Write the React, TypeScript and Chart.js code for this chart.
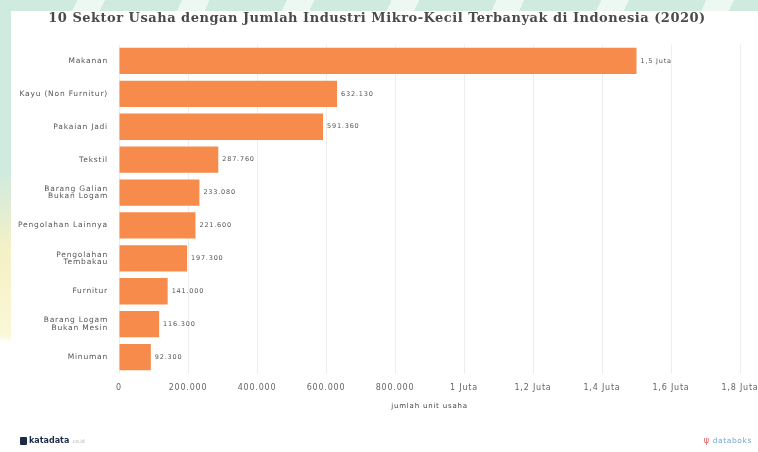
import React, { useEffect, useRef } from "react";
import { Chart, registerables } from "chart.js";

Chart.register(...registerables);

const categories: (string | string[])[] = [
  "Makanan",
  "Kayu (Non Furnitur)",
  "Pakaian Jadi",
  "Tekstil",
  ["Barang Galian", "Bukan Logam"],
  "Pengolahan Lainnya",
  ["Pengolahan", "Tembakau"],
  "Furnitur",
  ["Barang Logam", "Bukan Mesin"],
  "Minuman",
];
const values: number[] = [1500000, 632130, 591360, 287760, 233080, 221600, 197300, 141000, 116300, 92300];
const valueLabels: string[] = ["1,5 Juta", "632.130", "591.360", "287.760", "233.080", "221.600", "197.300", "141.000", "116.300", "92.300"];
const tickValues: number[] = [0, 200000, 400000, 600000, 800000, 1000000, 1200000, 1400000, 1600000, 1800000];
const tickLabels: string[] = ["0", "200.000", "400.000", "600.000", "800.000", "1 Juta", "1,2 Juta", "1,4 Juta", "1,6 Juta", "1,8 Juta"];

const FONT = "'DejaVu Sans', 'Liberation Sans', sans-serif";

const spacingPlugin = {
  id: "spacing",
  beforeInit(chart: any) {
    try {
      chart.ctx.letterSpacing = "0.8px";
    } catch (e) {}
  },
  beforeDraw(chart: any) {
    try {
      chart.ctx.letterSpacing = "0.8px";
    } catch (e) {}
  },
};

const valueLabelPlugin = {
  id: "valueLabels",
  afterDatasetsDraw(chart: any) {
    const ctx = chart.ctx;
    const meta = chart.getDatasetMeta(0);
    ctx.save();
    ctx.font = `6.5px ${FONT}`;
    ctx.fillStyle = "#555";
    ctx.textAlign = "left";
    ctx.textBaseline = "middle";
    meta.data.forEach((bar: any, i: number) => {
      ctx.fillText(valueLabels[i], bar.x + 4, bar.y);
    });
    ctx.restore();
  },
};

export default function App() {
  const ref = useRef<HTMLCanvasElement | null>(null);
  useEffect(() => {
    document.body.style.margin = "0";
    if (!ref.current) return;
    const chart = new Chart(ref.current, {
      type: "bar",
      data: {
        labels: categories as any,
        datasets: [
          {
            data: values,
            backgroundColor: "#F68B4B",
            borderWidth: 0,
            barPercentage: 1,
            categoryPercentage: 0.8,
          },
        ],
      },
      options: {
        indexAxis: "y",
        animation: false,
        responsive: false,
        maintainAspectRatio: false,
        layout: { padding: { top: 44.5, right: 18, bottom: 38.5, left: 0 } },
        plugins: {
          legend: { display: false },
          tooltip: { enabled: false },
          title: { display: false },
        },
        scales: {
          x: {
            min: 0,
            max: 1800000,
            afterBuildTicks(scale: any) {
              scale.ticks = tickValues.map((v) => ({ value: v }));
            },
            afterFit(scale: any) {
              scale.height = 40;
              scale.paddingLeft = 0;
              scale.paddingRight = 0;
            },
            ticks: {
              padding: 10,
              color: "#666",
              font: { family: FONT, size: 8 },
              maxRotation: 0,
              autoSkip: false,
              callback: (_v: any, i: number) => tickLabels[i],
            },
            grid: { color: "#eeeeee", drawTicks: false },
            border: { display: false },
            title: {
              display: true,
              text: "jumlah unit usaha",
              color: "#444",
              font: { family: FONT, size: 7 },
              padding: { top: 4, bottom: 3 },
            },
          },
          y: {
            afterFit(scale: any) {
              scale.width = 119;
            },
            ticks: {
              padding: 11,
              color: "#555",
              font: { family: FONT, size: 7.5, lineHeight: 1.0 },
            },
            grid: { display: false, drawTicks: false },
            border: { display: false },
          },
        },
      },
      plugins: [spacingPlugin, valueLabelPlugin],
    });
    return () => chart.destroy();
  }, []);

  return (
    <div style={{ position: "relative", width: 758, height: 452, overflow: "hidden", background: "#cfeadf" }}>
      <div
        style={{
          position: "absolute",
          left: 0,
          top: 0,
          width: 758,
          height: 11,
          background:
            "repeating-linear-gradient(115deg, #cfeadf 0px, #cfeadf 70px, #eef8f3 70px, #eef8f3 95px)",
        }}
      />
      <div
        style={{
          position: "absolute",
          left: 0,
          top: 0,
          width: 11,
          height: 452,
          background:
            "linear-gradient(to bottom, #cfeadf 0%, #cfeadf 38%, #f4f1c6 55%, #faf7d6 74%, #ffffff 76%, #ffffff 100%)",
        }}
      />
      <div style={{ position: "absolute", left: 11, top: 11, right: 0, bottom: 0, background: "#fff" }} />
      <canvas ref={ref} width={758} height={452} style={{ position: "absolute", left: 0, top: 0, display: "block" }} />
      <div
        style={{
          position: "absolute",
          left: 0,
          width: 754,
          top: 10,
          textAlign: "center",
          fontFamily: "'DejaVu Serif', serif",
          fontWeight: "bold",
          fontSize: 13,
          letterSpacing: 0.5,
          color: "#4a4a4a",
          whiteSpace: "nowrap",
        }}
      >
        10 Sektor Usaha dengan Jumlah Industri Mikro-Kecil Terbanyak di Indonesia (2020)
      </div>
      <div
        style={{
          position: "absolute",
          left: 20,
          top: 436,
          fontFamily: FONT,
          fontWeight: "bold",
          fontSize: 8,
          color: "#1d2b4a",
          display: "flex",
          alignItems: "center",
          gap: 2,
        }}
      >
        <span style={{ display: "inline-block", width: 7, height: 8, background: "#1d2b4a", borderRadius: 1 }} />
        katadata<span style={{ fontSize: 5, color: "#aaa", fontWeight: "normal" }}>.co.id</span>
      </div>
      <div
        style={{
          position: "absolute",
          right: 6,
          top: 436,
          fontFamily: FONT,
          fontSize: 7.5,
          letterSpacing: 0.6,
          color: "#6fa9d6",
          display: "flex",
          alignItems: "center",
          gap: 3,
        }}
      >
        <span style={{ color: "#e05a5a", fontSize: 8 }}>ψ</span>databoks
      </div>
    </div>
  );
}
